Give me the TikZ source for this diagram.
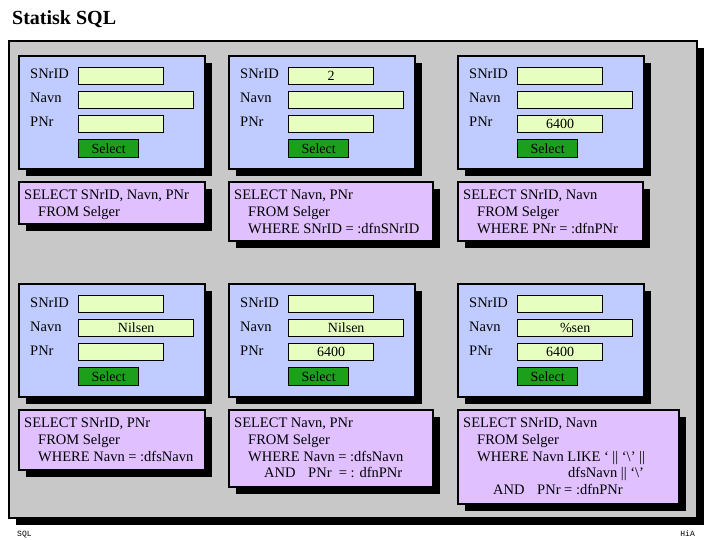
\documentclass[tikz,border=0pt]{standalone}
\usepackage{fontspec}
\setmainfont{Liberation Serif}
\newfontfamily\monof{Liberation Mono}
\usetikzlibrary{shadows}
\definecolor{bggray}{RGB}{200,200,200}
\definecolor{formblue}{RGB}{192,204,255}
\definecolor{sqlpurple}{RGB}{224,192,255}
\definecolor{fieldgreen}{RGB}{230,255,192}
\definecolor{btngreen}{RGB}{28,160,28}
\tikzset{
  blackshadow/.style={drop shadow={shadow xshift=7pt,shadow yshift=-7pt,fill=black,opacity=1}},
  framebox/.style={draw=black,line width=2pt,fill=bggray,anchor=north west,inner sep=0pt,blackshadow},
  formbox/.style={draw=black,line width=1.6pt,fill=formblue,anchor=north west,inner sep=0pt,blackshadow},
  sqlbox/.style={draw=black,line width=1.6pt,fill=sqlpurple,anchor=north west,inner sep=0pt,blackshadow},
  fieldbox/.style={draw=black,line width=1.4pt,fill=fieldgreen,anchor=north west,inner sep=0pt,minimum height=17pt,font=\fontsize{14}{16}\selectfont},
  btnbox/.style={draw=black,line width=1.4pt,fill=btngreen,anchor=north west,inner sep=0pt,minimum height=18pt,minimum width=60pt,font=\fontsize{14}{16}\selectfont},
  lbl/.style={anchor=base west,inner sep=0pt,font=\fontsize{14.5}{17}\selectfont},
  sqltext/.style={anchor=north west,align=left,inner sep=0pt,font=\fontsize{14.5}{16.6}\selectfont},
  foot/.style={inner sep=0pt,font=\monof\fontsize{8}{9}\selectfont}
}
% #1 name, #2 x, #3 y, #4 SNrID value, #5 Navn value, #6 PNr value, #7 sql width, #8 sql height, #9 sql text
\newcommand{\sqlpanel}[9]{%
  \node[formbox,minimum width=186pt,minimum height=113pt] (#1box) at (#2,#3) {};
  \node[lbl] (#1la) at (#2+12,#3+24) {SNrID};
  \node[lbl] (#1lb) at (#2+12,#3+48) {Navn};
  \node[lbl] (#1lc) at (#2+12,#3+72) {PNr};
  \node[fieldbox,minimum width=85pt] (#1fa) at (#2+60,#3+12) {#4};
  \node[fieldbox,minimum width=115pt] (#1fb) at (#2+60,#3+36) {#5};
  \node[fieldbox,minimum width=85pt] (#1fc) at (#2+60,#3+60) {#6};
  \node[btnbox] (#1btn) at (#2+60,#3+84) {Select};
  \node[sqlbox,minimum width=#7pt,minimum height=#8pt] (#1sqlbox) at (#2,#3+126) {};
  \node[sqltext] (#1sql) at (#2+6,#3+135) {#9};
}
\begin{document}
\begin{tikzpicture}[x=1pt,y=-1pt]
\useasboundingbox (0,0) rectangle (720,540);
\fill[white] (0,0) rectangle (720,540);
\node[anchor=base west,inner sep=0pt,font=\bfseries\fontsize{20}{24}\selectfont] (title) at (12,25) {Statisk SQL};
\node[framebox,minimum width=688pt,minimum height=477pt] (frame) at (8,40) {};
\sqlpanel{a}{18}{55}{}{}{}{186}{42}{SELECT SNrID, Navn, PNr\\\hspace*{14pt}FROM Selger}
\sqlpanel{b}{228}{55}{2}{}{}{204}{59}{SELECT Navn, PNr\\\hspace*{14pt}FROM Selger\\\hspace*{14pt}WHERE SNrID = :dfnSNrID}
\sqlpanel{c}{457}{55}{}{}{6400}{185}{59}{SELECT SNrID, Navn\\\hspace*{14pt}FROM Selger\\\hspace*{14pt}WHERE PNr = :dfnPNr}
\sqlpanel{d}{18}{283}{}{Nilsen}{}{186}{60}{SELECT SNrID, PNr\\\hspace*{14pt}FROM Selger\\\hspace*{14pt}WHERE Navn = :dfsNavn}
\sqlpanel{e}{228}{283}{}{Nilsen}{6400}{204}{77}{SELECT Navn, PNr\\\hspace*{14pt}FROM Selger\\\hspace*{14pt}WHERE Navn = :dfsNavn\\\hspace*{30pt}AND\hspace*{9pt} PNr \ = : dfnPNr}
\sqlpanel{f}{457}{283}{}{\%sen}{6400}{221}{94}{SELECT SNrID, Navn\\\hspace*{14pt}FROM Selger\\\hspace*{14pt}WHERE Navn LIKE ‘ || ‘\textbackslash’ ||\\\hspace*{105pt}dfsNavn || ‘\textbackslash’\\\hspace*{30pt}AND\hspace*{9pt} PNr = :dfnPNr}
\node[foot,anchor=base west] (fl) at (17,536) {SQL};
\node[foot,anchor=base east] (fr) at (695,536) {HiA};
\end{tikzpicture}
\end{document}
